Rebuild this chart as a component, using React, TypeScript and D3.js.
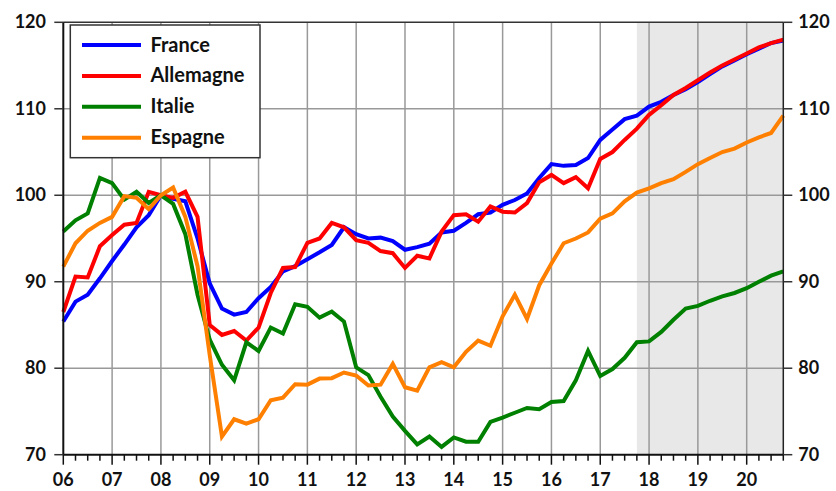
import * as d3 from 'd3';

// quarterly index, 2006Q1 .. 2020Q4
const startYear = 2006;
const tickLabels = ['06', '07', '08', '09', '10', '11', '12', '13', '14', '15', '16', '17', '18', '19', '20'];
const yTicks = [70, 80, 90, 100, 110, 120];
const forecastStart = 2017.75;

const france = [
  85.4, 87.7, 88.5, 90.4,
  92.4, 94.3, 96.3, 97.7,
  100.0, 99.6, 99.3, 95.0,
  89.8, 86.9, 86.2, 86.5,
  88.1, 89.4, 91.2, 91.8,
  92.6, 93.4, 94.25, 96.3,
  95.5, 95.0, 95.1, 94.7,
  93.7, 94.0, 94.4, 95.7,
  95.9, 96.8, 97.8, 98.0,
  98.9, 99.45, 100.2, 102.0,
  103.6, 103.4, 103.5, 104.3,
  106.4, 107.6, 108.8, 109.2,
  110.25, 110.8, 111.6, 112.25,
  113.1, 114.0, 114.9, 115.6,
  116.3, 116.95, 117.6, 117.9,
];

const allemagne = [
  86.5, 90.6, 90.5, 94.1,
  95.4, 96.6, 96.8, 100.4,
  100.0, 99.7, 100.4, 97.5,
  85.0, 83.85, 84.3, 83.2,
  84.7, 88.7, 91.6, 91.7,
  94.5, 95.0, 96.8, 96.3,
  94.8, 94.5, 93.55, 93.3,
  91.6, 93.0, 92.7, 95.8,
  97.7, 97.8, 96.95, 98.7,
  98.1, 98.0, 99.1, 101.5,
  102.35, 101.4, 102.1, 100.8,
  104.2, 105.0, 106.4, 107.7,
  109.3, 110.4, 111.6, 112.4,
  113.3, 114.2, 115.0, 115.7,
  116.4, 117.1, 117.6, 118.0,
];

const italie = [
  95.8, 97.1, 97.9, 102.0,
  101.4, 99.5, 100.4, 99.1,
  100.0, 99.0, 95.5, 88.5,
  83.3, 80.4, 78.6, 83.0,
  82.0, 84.7, 84.0, 87.4,
  87.1, 85.85, 86.55, 85.4,
  80.1, 79.2, 76.7, 74.4,
  72.75, 71.2, 72.1, 70.9,
  72.0, 71.5, 71.5, 73.8,
  74.3, 74.85, 75.4, 75.25,
  76.1, 76.2, 78.6, 82.0,
  79.1, 79.9, 81.2, 83.0,
  83.1, 84.2, 85.6, 86.9,
  87.2, 87.8, 88.3, 88.7,
  89.25, 90.0, 90.7, 91.2,
];

const espagne = [
  91.75, 94.45, 95.9, 96.8,
  97.5, 99.9, 99.7, 98.4,
  100.0, 100.9, 97.5, 91.8,
  81.5, 72.1, 74.1, 73.6,
  74.1, 76.3, 76.6, 78.15,
  78.1, 78.8, 78.85, 79.5,
  79.15, 78.0, 78.1, 80.5,
  77.8, 77.4, 80.1, 80.7,
  80.1, 81.9, 83.2, 82.6,
  86.0, 88.5, 85.7, 89.6,
  92.1, 94.45, 95.0, 95.7,
  97.3, 97.9, 99.3, 100.3,
  100.8, 101.4, 101.85, 102.7,
  103.6, 104.3, 105.0, 105.4,
  106.1, 106.7, 107.2, 109.2,
];

const seriesNames = ['France', 'Allemagne', 'Italie', 'Espagne'];
const seriesColors = ['#0000ff', '#ff0000', '#008000', '#ff8000'];
const seriesValues = [france, allemagne, italie, espagne];

const W = 836;
const H = 491;
const margin = { top: 22.3, right: 52.7, bottom: 36.3, left: 63.3 };
const FONT = 'Lato, "Open Sans", sans-serif';

export default function App() {
  const x = d3.scaleLinear()
    .domain([startYear, 2020.75])
    .range([margin.left, W - margin.right]);
  const y = d3.scaleLinear()
    .domain([70, 120])
    .range([H - margin.bottom, margin.top]);

  const [x0, x1] = x.range();
  const [yb, yt] = y.range();

  const line = d3.line<number>()
    .x((_, i) => x(startYear + i / 4))
    .y(d => y(d));

  const yearTicks = tickLabels.map((_, i) => startYear + i);
  const quarterTicks = d3.range(0, 60).map(i => startYear + i / 4).filter(q => q % 1 !== 0);

  return (
    <svg width={W} height={H} style={{ position: 'absolute', left: 0, top: 0, background: '#fff' }}>
      {/* forecast shading */}
      <rect x={x(forecastStart)} y={yt} width={x1 - x(forecastStart)} height={yb - yt} fill="#e8e8e8" />

      {/* grid */}
      <g stroke="#999" strokeWidth={1.5}>
        {yearTicks.slice(1).map(t => (
          <line key={'gx' + t} x1={x(t)} x2={x(t)} y1={yt} y2={yb} />
        ))}
        {yTicks.slice(1, -1).map(t => (
          <line key={'gy' + t} x1={x0} x2={x1} y1={y(t)} y2={y(t)} />
        ))}
      </g>

      {/* series */}
      {seriesValues.map((vals, k) => (
        <path key={seriesNames[k]} d={line(vals) || ''} fill="none"
          stroke={seriesColors[k]} strokeWidth={4} strokeLinejoin="miter" />
      ))}

      {/* frame */}
      <line x1={x0} x2={x1} y1={yt} y2={yt} stroke="#333" strokeWidth={1.5} />
      <line x1={x1} x2={x1} y1={yt} y2={yb} stroke="#222" strokeWidth={1.5} />
      <line x1={x0} x2={x0} y1={yt} y2={yb} stroke="#111" strokeWidth={2} />
      <line x1={x0} x2={x1} y1={yb} y2={yb} stroke="#111" strokeWidth={2} />

      {/* y ticks left/right */}
      <g fontFamily={FONT} fontWeight="bold" fontSize={18} fill="#111">
        {yTicks.map(t => (
          <g key={'yt' + t}>
            <line x1={x0 - 9} x2={x0} y1={y(t)} y2={y(t)} stroke="#333" strokeWidth={1.5} />
            <line x1={x1} x2={x1 + 9} y1={y(t)} y2={y(t)} stroke="#333" strokeWidth={1.5} />
            <text x={46} y={y(t)} dy="0.33em" textAnchor="end">{t}</text>
            <text x={x1 + 15} y={y(t)} dy="0.33em" textAnchor="start">{t}</text>
          </g>
        ))}
      </g>

      {/* x ticks */}
      <g stroke="#111" strokeWidth={1.5}>
        {yearTicks.map(t => (
          <line key={'xt' + t} x1={x(t)} x2={x(t)} y1={yb} y2={yb + 10} />
        ))}
        {quarterTicks.map(t => (
          <line key={'xq' + t} x1={x(t)} x2={x(t)} y1={yb} y2={yb + 6} />
        ))}
      </g>
      <g fontFamily={FONT} fontWeight="bold" fontSize={18} fill="#111" textAnchor="middle">
        {tickLabels.map((lab, i) => (
          <text key={'xl' + lab} x={x(startYear + i)} y={486}>{lab}</text>
        ))}
      </g>

      {/* legend */}
      <g>
        <rect x={70.3} y={25} width={189.7} height={132.7} fill="#fff" stroke="#333" strokeWidth={1.5} />
        {seriesNames.map((name, k) => (
          <g key={'lg' + name}>
            <line x1={82} x2={141} y1={45 + k * 30.9} y2={45 + k * 30.9} stroke={seriesColors[k]} strokeWidth={4} />
            <text x={150.5} y={51.5 + k * 30.9} fontFamily={FONT} fontWeight="bold" fontSize={20} fill="#111">{name}</text>
          </g>
        ))}
      </g>
    </svg>
  );
}
